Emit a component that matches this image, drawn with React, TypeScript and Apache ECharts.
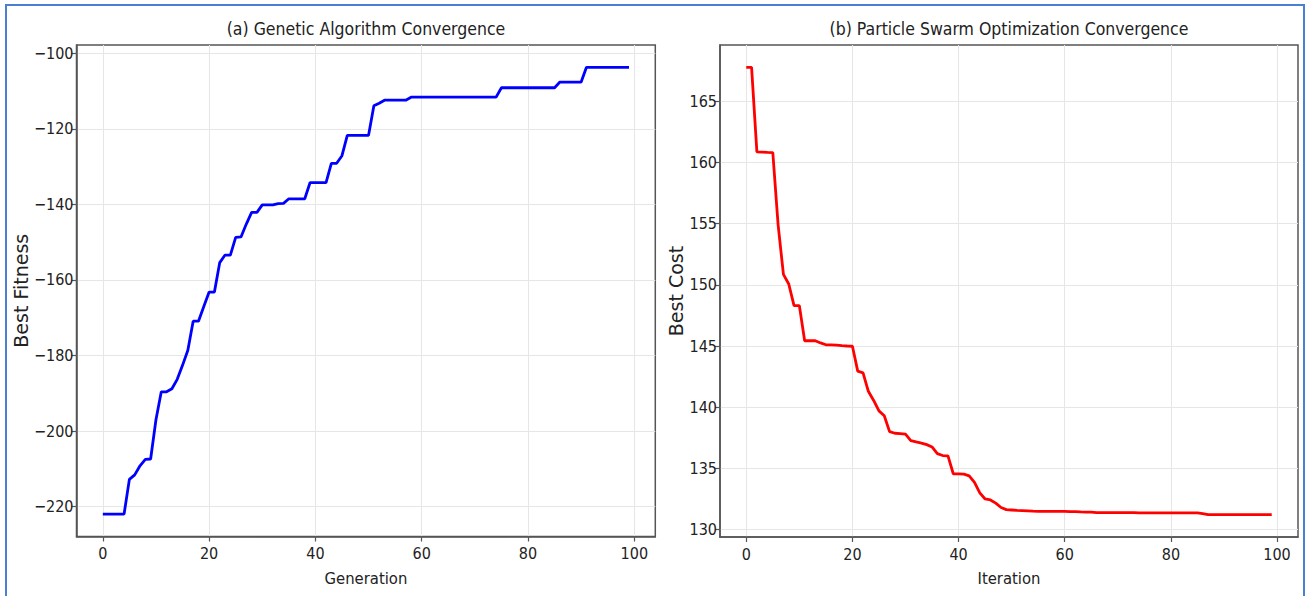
import React, { useEffect, useRef } from "react";
import * as echarts from "echarts";

const gaGenerations: number[] = Array.from({ length: 100 }, (_, i) => i);
const gaBestFitness: number[] = [
  -222, -222, -222, -222, -222, -212.8, -211.6, -209.2, -207.5, -207.4,
  -197, -189.6, -189.6, -188.8, -186.3, -182.6, -178.6, -170.9, -170.9, -167,
  -163.2, -163.2, -155.4, -153.4, -153.4, -148.7, -148.6, -145.2, -142.1, -142.1,
  -140.1, -140.1, -140.1, -139.8, -139.7, -138.5, -138.5, -138.5, -138.5, -134.2,
  -134.2, -134.2, -134.2, -129.1, -129.1, -127.1, -121.7, -121.7, -121.7, -121.7,
  -121.7, -113.9, -113.2, -112.4, -112.4, -112.4, -112.4, -112.4, -111.6, -111.6,
  -111.6, -111.6, -111.6, -111.6, -111.6, -111.6, -111.6, -111.6, -111.6, -111.6,
  -111.6, -111.6, -111.6, -111.6, -111.6, -109.1, -109.1, -109.1, -109.1, -109.1,
  -109.1, -109.1, -109.1, -109.1, -109.1, -109.1, -107.6, -107.6, -107.6, -107.6,
  -107.6, -103.7, -103.7, -103.7, -103.7, -103.7, -103.7, -103.7, -103.7, -103.7,
];

const psoIterations: number[] = Array.from({ length: 100 }, (_, i) => i);
const psoBestCost: number[] = [
  167.77, 167.77, 160.87, 160.85, 160.82, 160.8, 154.9, 150.85, 150.07, 148.3,
  148.3, 145.43, 145.43, 145.43, 145.25, 145.1, 145.1, 145.08, 145.03, 145.0,
  144.98, 142.95, 142.8, 141.3, 140.55, 139.7, 139.3, 138.0, 137.87, 137.84,
  137.8, 137.27, 137.16, 137.07, 136.94, 136.75, 136.2, 136.05, 136.02, 134.56,
  134.55, 134.53, 134.39, 133.85, 133.0, 132.5, 132.42, 132.16, 131.8, 131.63,
  131.6, 131.56, 131.54, 131.52, 131.5, 131.49, 131.49, 131.49, 131.49, 131.49,
  131.49, 131.47, 131.46, 131.44, 131.43, 131.42, 131.38, 131.38, 131.38, 131.38,
  131.38, 131.38, 131.38, 131.38, 131.36, 131.36, 131.36, 131.36, 131.36, 131.36,
  131.36, 131.36, 131.36, 131.36, 131.36, 131.36, 131.3, 131.22, 131.22, 131.22,
  131.22, 131.22, 131.22, 131.22, 131.22, 131.22, 131.22, 131.22, 131.22, 131.22,
];

const xTickValues: number[] = [0, 20, 40, 60, 80, 100];
const gaYTickValues: number[] = [-220, -200, -180, -160, -140, -120, -100];
const psoYTickValues: number[] = [130, 135, 140, 145, 150, 155, 160, 165];

const titleA = "(a) Genetic Algorithm Convergence";
const titleB = "(b) Particle Swarm Optimization Convergence";
const xNameA = "Generation";
const xNameB = "Iteration";
const yNameA = "Best Fitness";
const yNameB = "Best Cost";

const NARROW = "'Liberation Sans Narrow', 'DejaVu Sans Condensed', sans-serif";
const FRAME = "#555555";
const GRIDC = "#e6e6e6";

function pad(vals: number[]): [number, number] {
  const mn = Math.min(...vals);
  const mx = Math.max(...vals);
  const m = (mx - mn) * 0.05;
  return [mn - m, mx + m];
}

function minusFmt(v: number): string {
  return String(v).replace("-", "\u2212");
}

export default function App() {
  const ref = useRef<HTMLDivElement>(null);
  useEffect(() => {
    document.body.style.margin = "0";
    if (!ref.current) return;
    const chart = echarts.init(ref.current, undefined, { renderer: "svg" });
    const [gxMin, gxMax] = pad(gaGenerations);
    const [gyMin, gyMax] = pad(gaBestFitness);
    const [pxMin, pxMax] = pad(psoIterations);
    const [pyMin, pyMax] = pad(psoBestCost);

    const xAxisCommon = (idx: number, name: string, min: number, max: number) => ({
      type: "value" as const,
      gridIndex: idx,
      min,
      max,
      name,
      nameLocation: "middle" as const,
      nameGap: 33,
      nameTextStyle: { fontFamily: NARROW, fontSize: 16.5, color: "#222" },
      axisLine: { show: true, onZero: false, lineStyle: { color: FRAME, width: 1.5 } },
      axisTick: { show: true, length: 5, customValues: xTickValues, lineStyle: { color: FRAME, width: 1.2 } },
      axisLabel: { customValues: xTickValues, fontFamily: NARROW, fontSize: 16, color: "#222", margin: 9 },
      splitLine: { show: true, lineStyle: { color: GRIDC, width: 1 } },
    });

    const yAxisCommon = (idx: number, name: string, min: number, max: number, ticks: number[], gap: number) => ({
      type: "value" as const,
      gridIndex: idx,
      min,
      max,
      name,
      nameLocation: "middle" as const,
      nameGap: gap,
      nameTextStyle: { fontFamily: "'DejaVu Sans', sans-serif", fontSize: 19, color: "#222" },
      axisLine: { show: true, onZero: false, lineStyle: { color: FRAME, width: 1.5 } },
      axisTick: { show: true, length: 5, customValues: ticks, lineStyle: { color: FRAME, width: 1.2 } },
      axisLabel: { customValues: ticks, fontFamily: NARROW, fontSize: 16, color: "#222", margin: 3, formatter: minusFmt },
      splitLine: { show: true, lineStyle: { color: GRIDC, width: 1 } },
    });

    chart.setOption({
      animation: false,
      backgroundColor: "#ffffff",
      grid: [
        { left: 76.5, right: 1307 - 655.3, top: 45, bottom: 596 - 536.5, show: true, borderColor: FRAME, borderWidth: 1.5, backgroundColor: "transparent" },
        { left: 720, right: 1307 - 1298, top: 45, bottom: 596 - 537, show: true, borderColor: FRAME, borderWidth: 1.5, backgroundColor: "transparent" },
      ],
      xAxis: [xAxisCommon(0, xNameA, gxMin, gxMax), xAxisCommon(1, xNameB, pxMin, pxMax)],
      yAxis: [
        yAxisCommon(0, yNameA, gyMin, gyMax, gaYTickValues, 40),
        yAxisCommon(1, yNameB, pyMin, pyMax, psoYTickValues, 28),
      ],
      series: [
        {
          type: "line",
          xAxisIndex: 0,
          yAxisIndex: 0,
          data: gaGenerations.map((g, i) => [g, gaBestFitness[i]]),
          showSymbol: false,
          lineStyle: { color: "#0000ff", width: 2.8 },
          itemStyle: { color: "#0000ff" },
        },
        {
          type: "line",
          xAxisIndex: 1,
          yAxisIndex: 1,
          data: psoIterations.map((g, i) => [g, psoBestCost[i]]),
          showSymbol: false,
          lineStyle: { color: "#ff0000", width: 2.8 },
          itemStyle: { color: "#ff0000" },
        },
      ],
      graphic: [
        {
          type: "rect",
          shape: { x: 6, y: 5, width: 1298, height: 620 },
          style: { fill: "none", stroke: "#4a7fd4", lineWidth: 2 },
          silent: true,
        },
        {
          type: "text",
          x: 366,
          y: 29,
          style: { text: titleA, fontFamily: NARROW, fontSize: 17.5, fill: "#222", align: "center", verticalAlign: "middle" },
        },
        {
          type: "text",
          x: 1009,
          y: 29,
          style: { text: titleB, fontFamily: NARROW, fontSize: 17.5, fill: "#222", align: "center", verticalAlign: "middle" },
        },
      ],
    });
    return () => chart.dispose();
  }, []);
  return <div ref={ref} style={{ width: 1307, height: 596 }} />;
}
